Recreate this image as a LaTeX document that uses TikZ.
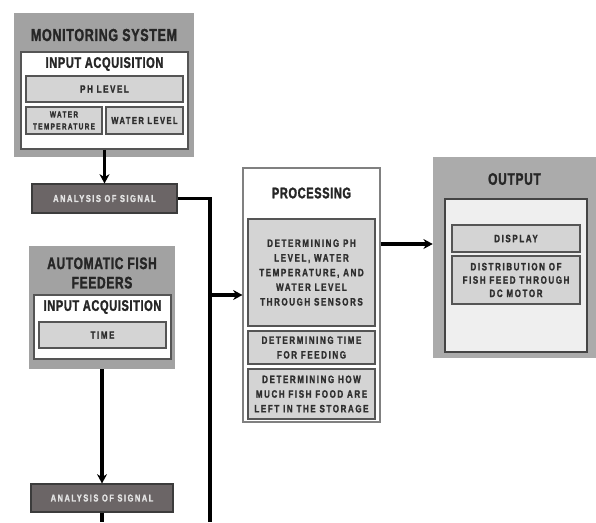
\documentclass[tikz,border=0pt]{standalone}
\usepackage{fontspec}
\setmainfont{Liberation Sans}
\newfontfamily\headfont{Liberation Sans}[FakeStretch=0.72, LetterSpace=4, FakeBold=1.6]
\newfontfamily\labelfont{Liberation Sans}[FakeStretch=0.75, LetterSpace=15, FakeBold=1.5]
\usetikzlibrary{arrows.meta}
\definecolor{panelgray}{HTML}{A2A2A2}
\definecolor{itemgray}{HTML}{D4D4D4}
\definecolor{boxline}{HTML}{555555}
\definecolor{signalgray}{HTML}{6B6566}
\definecolor{signaltext}{HTML}{E4E4E4}
\definecolor{headtext}{HTML}{262626}
\definecolor{itemtext}{HTML}{2E2E2E}
\definecolor{screen}{HTML}{EFEFEF}

\begin{document}
\begin{tikzpicture}[x=0.75pt, y=-0.75pt, >={Stealth[length=7pt, width=7.5pt]},
  boxsize/.style 2 args={minimum width=#1*0.75pt, minimum height=#2*0.75pt},
  panel/.style={fill=panelgray, inner sep=0},
  inset/.style={fill=white, draw=boxline, line width=1.2pt, inner sep=0},
  item/.style={fill=itemgray, draw=boxline, line width=1pt, inner sep=0, align=center, text=itemtext, font={\labelfont\bfseries\fontsize{8}{11}\selectfont}},
  signal/.style={fill=signalgray, draw=boxline!70!black, line width=0.8pt, inner sep=0, text=signaltext, font={\labelfont\bfseries\fontsize{7.5}{9}\selectfont}},
  head/.style={text=headtext, align=center, font={\headfont\bfseries\fontsize{13}{14.5}\selectfont}},
  subhead/.style={text=headtext, font={\headfont\bfseries\fontsize{11.5}{13}\selectfont}},
  wire/.style={line width=2.4pt}]
\useasboundingbox (0,0) rectangle (596,522);
% monitoring system
\node[panel, boxsize={180}{144}] (mon) at (104,85) {};
\node[head] (montitle) at (104,35) {MONITORING SYSTEM};
\node[inset, boxsize={167}{97}] (moninner) at (104.5,100.5) {};
\node[subhead] (acq1) at (104.5,64) {INPUT ACQUISITION};
\node[item, boxsize={157}{26}] (ph) at (104.5,89) {PH LEVEL};
\node[item, boxsize={76}{27}, font={\labelfont\bfseries\fontsize{6.5}{9}\selectfont}] (temp) at (64,120.5) {WATER\\TEMPERATURE};
\node[item, boxsize={77}{27}, font={\labelfont\bfseries\fontsize{7.5}{9}\selectfont}] (wlevel) at (144.5,120.5) {WATER LEVEL};
\node[signal, boxsize={145}{29}] (an1) at (104.5,198.5) {ANALYSIS OF SIGNAL};
% automatic fish feeders
\node[panel, boxsize={146}{123}] (feed) at (102,307.5) {};
\node[head, font={\headfont\bfseries\fontsize{12.5}{14.5}\selectfont}] (feedtitle) at (102,273) {AUTOMATIC FISH\\FEEDERS};
\node[inset, boxsize={137}{64}] (feedinner) at (102.5,327) {};
\node[subhead] (acq2) at (102.5,307) {INPUT ACQUISITION};
\node[item, boxsize={127}{26}] (time) at (102.5,335) {TIME};
\node[signal, boxsize={142}{28}] (an2) at (102,498) {ANALYSIS OF SIGNAL};
% processing
\node[fill=white, draw=gray, line width=0.8pt, inner sep=0, boxsize={137}{254}] (proc) at (311.5,295) {};
\node[head, font={\headfont\bfseries\fontsize{11.5}{13}\selectfont}] (proctitle) at (311.5,193) {PROCESSING};
\node[item, boxsize={127}{107}] (p1) at (311.5,272.5) {DETERMINING PH\\LEVEL, WATER\\TEMPERATURE, AND\\WATER LEVEL\\THROUGH SENSORS};
\node[item, boxsize={127}{33}] (p2) at (311.5,347.5) {DETERMINING TIME\\FOR FEEDING};
\node[item, boxsize={127}{50}] (p3) at (311.5,394) {DETERMINING HOW\\MUCH FISH FOOD ARE\\LEFT IN THE STORAGE};
% output
\node[panel, fill=panelgray!90!white, boxsize={163}{201}] (outp) at (514.5,257.5) {};
\node[head, font={\headfont\bfseries\fontsize{12.5}{14}\selectfont}] (outtitle) at (514.5,179) {OUTPUT};
\node[inset, fill=screen, draw=boxline!80!black, boxsize={142}{153}] (outinner) at (516,275.5) {};
\node[item, boxsize={128}{27}] (disp) at (516,238.5) {DISPLAY};
\node[item, boxsize={128}{48}, font={\labelfont\bfseries\fontsize{8}{10}\selectfont}] (dist) at (516,280) {DISTRIBUTION OF\\FISH FEED THROUGH\\DC MOTOR};
% connectors
\coordinate (busend) at (210,522);
\coordinate (tap) at (210,295);
\coordinate (tail) at (102,522);
\coordinate (lvl) at (0,244);
\draw[wire,->] (moninner.south) -- (an1.north);
\draw[wire,->] (feed.south) -- (an2.north);
\draw[wire] (an2.south) -- (tail);
\draw[wire] (an1.east) -| (busend);
\draw[wire,->] (tap) -- (proc.west);
\draw[wire,->] (proc.east |- lvl) -- (outp.west |- lvl);
\end{tikzpicture}
\end{document}
